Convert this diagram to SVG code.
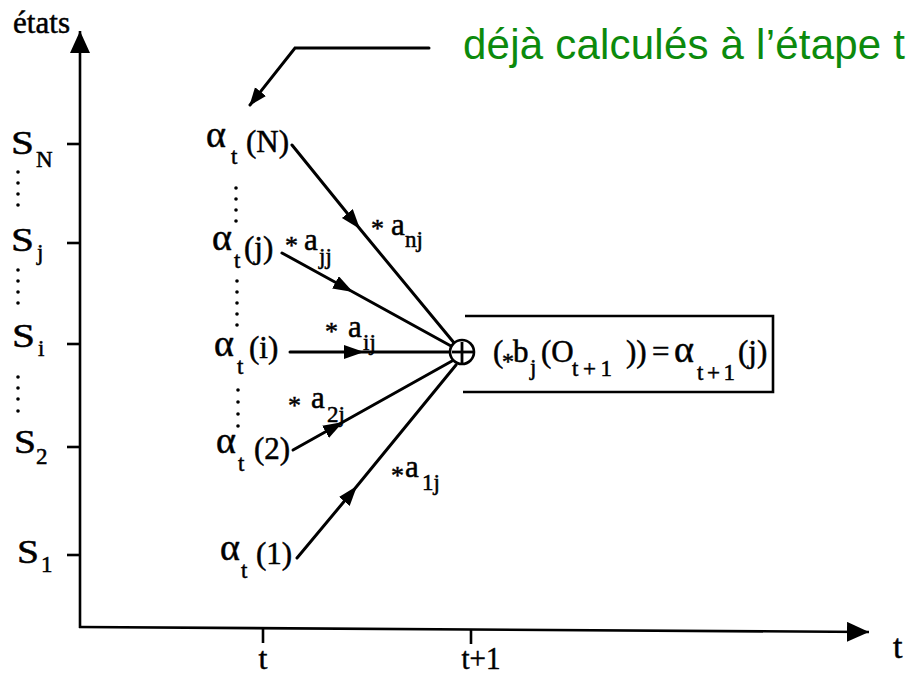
<svg xmlns="http://www.w3.org/2000/svg" width="907" height="675" viewBox="0 0 907 675">
<style>
  .s{font-family:"Liberation Serif","Times New Roman",serif;fill:#000;stroke:#000;stroke-width:0.5}
  .m{font-size:31px}
  .big{font-size:34px}
  .al{font-size:38px}
  .sub{font-size:23px}
  .ast{font-size:26px}
  .ln{stroke:#000;stroke-width:3;fill:none;stroke-linecap:round}
  .ax{stroke:#000;stroke-width:2.6;fill:none}
  .dot{fill:#000}
  .green{font-family:"Liberation Sans",Arial,sans-serif;font-size:42px;fill:#0c8a0c}
</style>
<defs>
  <marker id="mid" markerUnits="userSpaceOnUse" markerWidth="22" markerHeight="16" refX="20" refY="7" orient="auto">
    <path d="M0,0 L20,7 L0,14 z" fill="#000"/>
  </marker>
  <marker id="axh" markerUnits="userSpaceOnUse" markerWidth="24" markerHeight="22" refX="22" refY="10" orient="auto">
    <path d="M0,0 L22,10 L0,20 z" fill="#000"/>
  </marker>
  <marker id="lead" markerUnits="userSpaceOnUse" markerWidth="20" markerHeight="16" refX="17" refY="7" orient="auto">
    <path d="M0,0 L18,7 L0,14 z" fill="#000"/>
  </marker>
</defs>
<rect width="907" height="675" fill="#fff"/>

<g id="axes">
  <line class="ax" x1="80" y1="628" x2="80" y2="31" marker-end="url(#axh)"/>
  <line class="ax" x1="79" y1="627" x2="869" y2="632" marker-end="url(#axh)"/>
  <text class="s" x="13" y="33" font-size="31" textLength="57" lengthAdjust="spacingAndGlyphs">états</text>
  <text class="s" x="893" y="658" font-size="34">t</text>
  <line class="ax" x1="263" y1="629" x2="263" y2="643"/>
  <line class="ax" x1="471" y1="630" x2="471" y2="644"/>
  <text class="s" x="263" y="669" font-size="32" text-anchor="middle">t</text>
  <text class="s" x="481" y="669" font-size="32" text-anchor="middle" textLength="39" lengthAdjust="spacingAndGlyphs">t+1</text>
  <line class="ax" x1="67" y1="144" x2="80" y2="144"/>
  <line class="ax" x1="67" y1="243" x2="80" y2="243"/>
  <line class="ax" x1="67" y1="344" x2="80" y2="344"/>
  <line class="ax" x1="67" y1="447" x2="80" y2="447"/>
  <line class="ax" x1="67" y1="555" x2="80" y2="555"/>
</g>

<g id="state-labels">
  <text class="s big" x="11" y="154" textLength="23" lengthAdjust="spacingAndGlyphs">S</text><text class="s sub" x="36" y="167">N</text>
  <text class="s big" x="11" y="251" textLength="23" lengthAdjust="spacingAndGlyphs">S</text><text class="s sub" x="37" y="260">j</text>
  <text class="s big" x="12" y="347" textLength="23" lengthAdjust="spacingAndGlyphs">S</text><text class="s sub" x="38" y="356">i</text>
  <text class="s big" x="14" y="453" textLength="22" lengthAdjust="spacingAndGlyphs">S</text><text class="s sub" x="36" y="464">2</text>
  <text class="s big" x="17" y="563" textLength="22" lengthAdjust="spacingAndGlyphs">S</text><text class="s sub" x="41" y="572">1</text>
  <g class="dot">
    <circle cx="18" cy="172" r="1.8"/><circle cx="18" cy="183" r="1.8"/><circle cx="18" cy="194" r="1.8"/><circle cx="18" cy="205" r="1.8"/>
    <circle cx="18" cy="270" r="1.8"/><circle cx="18" cy="281" r="1.8"/><circle cx="18" cy="292" r="1.8"/><circle cx="18" cy="303" r="1.8"/>
    <circle cx="18" cy="377" r="1.8"/><circle cx="18" cy="388" r="1.8"/><circle cx="18" cy="399" r="1.8"/><circle cx="18" cy="411" r="1.8"/>
  </g>
</g>

<g id="alpha-N"><text class="s al" x="206" y="147">α</text><text class="s sub" x="231" y="164">t</text><text class="s m" x="246" y="152">(N)</text></g>
<g id="alpha-j"><text class="s al" x="212" y="250">α</text><text class="s sub" x="234" y="268">t</text><text class="s m" x="244" y="258">(j)</text></g>
<g id="alpha-i"><text class="s al" x="214" y="356">α</text><text class="s sub" x="237" y="374">t</text><text class="s m" x="249" y="358">(i)</text></g>
<g id="alpha-2"><text class="s al" x="216" y="453">α</text><text class="s sub" x="238" y="471">t</text><text class="s m" x="254" y="459">(2)</text></g>
<g id="alpha-1"><text class="s al" x="220" y="560">α</text><text class="s sub" x="241" y="578">t</text><text class="s m" x="256" y="564">(1)</text></g>

<g id="alpha-dots" class="dot">
  <circle cx="236" cy="188" r="1.8"/><circle cx="236" cy="199" r="1.8"/><circle cx="236" cy="210" r="1.8"/><circle cx="236" cy="221" r="1.8"/>
  <circle cx="237" cy="281" r="1.8"/><circle cx="237" cy="292" r="1.8"/><circle cx="237" cy="303" r="1.8"/><circle cx="237" cy="314" r="1.8"/><circle cx="237" cy="325" r="1.8"/>
  <circle cx="238" cy="390" r="1.8"/><circle cx="238" cy="402" r="1.8"/><circle cx="238" cy="414" r="1.8"/><circle cx="238" cy="426" r="1.8"/>
</g>

<g id="connectors">
  <polyline class="ln" points="292,145 360,229 455,344" marker-mid="url(#mid)"/>
  <polyline class="ln" points="282,253 353,292 451,346" marker-mid="url(#mid)"/>
  <polyline class="ln" points="290,352 364,352 450,352" marker-mid="url(#mid)"/>
  <polyline class="ln" points="293,450 343,422 452,361" marker-mid="url(#mid)"/>
  <polyline class="ln" points="297,558 357,486 456,365" marker-mid="url(#mid)"/>
  <polyline class="ln" points="429,48 295,48 250,105" stroke-width="2.6" stroke-linecap="butt" marker-end="url(#lead)"/>
</g>

<g id="weights">
  <text class="s ast" x="371" y="237">*</text><text class="s m" x="391" y="235">a</text><text class="s sub" x="405" y="247">nj</text>
  <text class="s ast" x="285" y="254">*</text><text class="s m" x="304" y="250">a</text><text class="s sub" x="319" y="264">jj</text>
  <text class="s ast" x="325" y="340">*</text><text class="s m" x="348" y="337">a</text><text class="s sub" x="363" y="350">ij</text>
  <text class="s ast" x="288" y="414">*</text><text class="s m" x="311" y="408">a</text><text class="s sub" x="327" y="422">2j</text>
  <text class="s ast" x="391" y="484">*</text><text class="s m" x="405" y="477">a</text><text class="s sub" x="422" y="490">1j</text>
</g>

<g id="sum">
  <circle cx="462" cy="352" r="12" fill="#fff" stroke="#000" stroke-width="2.6"/>
  <line x1="462" y1="342" x2="462" y2="363" stroke="#000" stroke-width="2.8"/>
  <line x1="452" y1="352" x2="473" y2="352" stroke="#000" stroke-width="2.8"/>
</g>

<g id="result">
  <path class="ax" d="M465,316 H773 V392 H463"/>
  <text class="s m" x="493" y="362">(</text>
  <text class="s" x="502" y="369" font-size="24">*</text>
  <text class="s m" x="513" y="362">b</text>
  <text class="s sub" x="530" y="375">j</text>
  <text class="s m" x="541" y="362">(O</text>
  <text class="s sub" x="572" y="376" textLength="40" lengthAdjust="spacing">t+1</text>
  <text class="s m" x="626" y="362">))</text>
  <text class="s m" x="652" y="362">=</text>
  <text class="s al" x="674" y="362">α</text>
  <text class="s sub" x="697" y="380" textLength="38" lengthAdjust="spacing">t+1</text>
  <text class="s m" x="738" y="362">(j)</text>
</g>

<g id="note">
  <text class="green" x="463" y="59" textLength="442">déjà calculés à l’étape t</text>
</g>
</svg>
